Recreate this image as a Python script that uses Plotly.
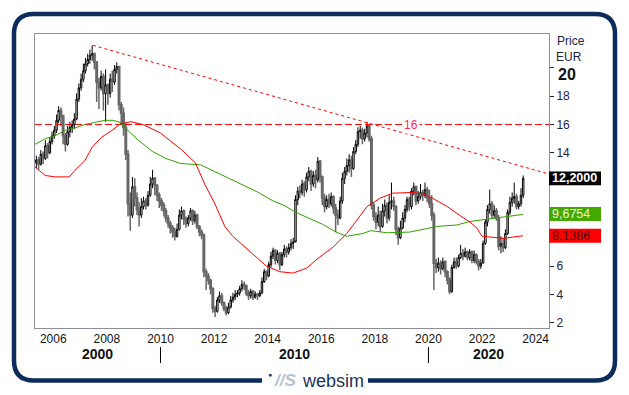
import plotly.graph_objects as go
from datetime import datetime

# ---------------- data (monthly candles, EUR) ----------------
start_year, start_month = 2005, 5
first_open = 13.3
close_ = [
    13.5, 13.2, 13.9, 13.6, 14.5, 14.0, 14.8, 15.2,                      # 2005 (May-Dec)
    15.6, 16.3, 17.0, 16.6, 15.2, 14.6, 15.5, 15.8, 16.0, 16.4, 17.8, 18.6,  # 2006
    19.2, 19.8, 20.3, 20.6, 20.9, 21.0, 20.4, 19.0, 18.6, 19.4, 18.2, 18.8,  # 2007
    18.2, 19.2, 19.0, 19.9, 20.1, 17.4, 16.8, 15.8, 13.9, 10.4, 9.6, 11.6,   # 2008
    10.8, 10.0, 9.6, 10.2, 10.6, 10.3, 11.0, 11.8, 12.2, 11.7, 11.0, 10.6,   # 2009
    10.3, 9.9, 9.4, 9.0, 8.7, 8.4, 8.1, 8.6, 9.6, 9.9, 9.3, 9.0,             # 2010
    9.4, 9.9, 9.2, 9.6, 8.8, 8.4, 8.2, 5.6, 5.3, 5.0, 4.4, 3.0,              # 2011
    2.8, 3.6, 3.9, 3.4, 3.0, 2.7, 3.1, 3.6, 3.8, 4.0, 4.1, 4.4,              # 2012
    4.7, 4.6, 4.1, 3.9, 4.2, 3.8, 4.0, 3.9, 4.1, 4.9, 5.6, 5.3,              # 2013
    6.1, 6.7, 7.1, 6.4, 6.9, 6.1, 6.8, 7.2, 7.0, 7.3, 7.6, 7.7,              # 2014
    10.7, 11.3, 11.2, 11.8, 11.4, 12.3, 12.7, 11.8, 12.4, 12.1, 13.4, 12.3,  # 2015
    10.8, 10.2, 10.7, 10.4, 10.9, 10.1, 9.6, 9.4, 10.6, 12.2, 12.7, 13.1,    # 2016
    13.5, 12.9, 14.1, 14.6, 15.5, 15.6, 15.0, 15.4, 15.9, 15.0, 10.3, 9.5,   # 2017
    9.1, 9.6, 8.8, 9.9, 10.3, 9.4, 10.5, 10.6, 10.2, 8.6, 8.0, 8.7,          # 2018
    9.4, 10.0, 10.7, 10.2, 11.3, 11.6, 10.6, 10.9, 11.2, 11.0, 11.4, 10.8,   # 2019
    10.4, 9.6, 6.2, 5.9, 6.2, 5.8, 6.3, 5.6, 5.0, 4.2, 5.9, 6.3,             # 2020
    6.0, 6.6, 6.9, 6.7, 7.0, 6.6, 7.0, 6.4, 6.8, 6.3, 6.0, 6.2,              # 2021
    7.6, 9.1, 10.0, 10.4, 9.6, 9.9, 9.4, 7.4, 7.6, 7.3, 8.3, 9.8,            # 2022
    10.5, 10.8, 10.9, 10.2, 10.4, 11.0, 12.2,                                # 2023 (Jan-Jul)
]
high_ = [
    13.8, 13.7, 14.2, 14.1, 14.9, 14.7, 15.1, 15.5,
    15.9, 16.7, 17.3, 17.2, 16.7, 15.4, 15.9, 16.2, 16.3, 16.8, 18.2, 18.9,
    19.6, 20.3, 20.7, 21.0, 21.3, 21.6, 21.1, 20.5, 19.3, 19.8, 19.6, 19.9,
    18.9, 19.6, 19.8, 20.2, 20.4, 20.1, 17.6, 17.2, 16.1, 14.2, 11.2, 12.3,
    12.2, 11.2, 10.5, 10.8, 10.9, 10.8, 11.3, 12.3, 12.8, 12.3, 11.8, 11.2,
    10.8, 10.5, 10.1, 9.6, 9.2, 8.9, 8.7, 9.0, 10.0, 10.2, 10.0, 9.5,
    9.6, 10.1, 10.0, 9.9, 9.7, 8.9, 8.6, 8.3, 5.8, 5.5, 5.1, 4.5,
    3.2, 3.8, 4.2, 4.1, 3.5, 3.2, 3.4, 3.9, 4.1, 4.3, 4.3, 4.6,
    5.0, 4.9, 4.7, 4.3, 4.4, 4.3, 4.2, 4.1, 4.3, 5.2, 5.8, 5.7,
    6.3, 7.0, 7.3, 7.2, 7.1, 7.0, 7.0, 7.5, 7.4, 7.6, 7.9, 8.0,
    11.0, 11.6, 11.7, 12.1, 12.0, 12.6, 13.0, 12.8, 12.7, 12.8, 13.7, 13.5,
    12.4, 11.1, 11.0, 11.1, 11.2, 11.0, 10.4, 10.0, 10.9, 12.6, 13.0, 13.6,
    13.9, 13.8, 14.4, 14.9, 15.8, 15.9, 15.8, 15.7, 16.2, 16.0, 15.2, 10.5,
    9.8, 10.2, 9.9, 10.4, 10.7, 10.5, 11.0, 11.9, 10.9, 10.3, 8.8, 9.2,
    9.8, 10.3, 10.9, 10.9, 11.5, 11.9, 11.7, 11.3, 11.8, 11.4, 11.9, 11.6,
    11.4, 11.0, 9.8, 6.5, 6.6, 6.4, 6.6, 6.4, 5.7, 5.2, 6.1, 6.6,
    6.6, 6.8, 7.5, 7.2, 7.3, 7.1, 7.2, 7.1, 7.1, 6.9, 6.5, 6.5,
    7.8, 9.3, 10.3, 11.4, 10.6, 10.3, 10.1, 9.6, 8.1, 8.0, 8.6, 10.0,
    10.9, 11.2, 11.9, 11.1, 10.6, 11.5, 12.4,
]
low_ = [
    12.9, 12.8, 13.1, 13.2, 13.5, 13.6, 13.9, 14.6,
    15.0, 15.4, 16.1, 15.9, 14.6, 14.1, 14.5, 15.1, 15.4, 15.7, 16.3, 17.6,
    18.4, 19.0, 19.6, 20.1, 20.3, 20.5, 19.9, 17.6, 17.1, 18.4, 17.0, 16.2,
    17.4, 17.9, 18.3, 18.8, 19.6, 17.0, 16.0, 15.2, 13.5, 9.5, 8.5, 9.4,
    10.2, 9.6, 8.8, 9.4, 10.0, 10.0, 10.2, 10.9, 11.5, 11.0, 10.6, 10.1,
    9.9, 9.5, 9.1, 8.7, 8.3, 8.0, 7.8, 8.0, 8.5, 9.3, 8.9, 8.7,
    8.8, 9.2, 8.9, 9.0, 8.6, 8.1, 7.9, 5.2, 4.3, 4.7, 4.0, 2.7,
    2.4, 2.7, 3.4, 3.2, 2.8, 2.5, 2.6, 3.0, 3.4, 3.6, 3.8, 3.9,
    4.2, 4.3, 3.9, 3.6, 3.7, 3.6, 3.7, 3.6, 3.8, 4.0, 4.8, 5.0,
    5.2, 5.9, 6.5, 6.1, 6.2, 5.7, 6.0, 6.6, 6.6, 6.8, 7.1, 7.2,
    7.8, 10.3, 10.8, 11.0, 10.9, 11.2, 12.0, 11.3, 11.6, 11.5, 11.9, 11.9,
    10.3, 9.8, 10.0, 10.1, 10.2, 9.7, 8.4, 8.9, 9.3, 10.4, 11.8, 12.4,
    12.6, 12.3, 12.8, 13.9, 14.4, 15.0, 14.6, 14.8, 15.1, 14.8, 10.0, 9.2,
    8.6, 8.8, 8.4, 8.7, 9.5, 9.0, 9.2, 10.0, 9.9, 8.2, 7.5, 7.9,
    8.6, 9.1, 9.8, 9.9, 10.0, 11.0, 10.3, 10.4, 10.7, 10.6, 10.8, 10.5,
    10.1, 9.2, 4.3, 5.5, 5.6, 5.4, 5.7, 5.2, 4.7, 4.0, 4.1, 5.8,
    5.8, 5.9, 6.5, 6.4, 6.6, 6.4, 6.4, 6.2, 6.2, 6.1, 5.7, 5.8,
    6.2, 7.5, 8.8, 9.7, 9.3, 9.4, 9.2, 7.1, 6.9, 7.0, 7.2, 8.2,
    9.6, 10.2, 10.4, 10.0, 10.0, 10.2, 10.8,
]

# moving averages (fractional year, value)
red_ma_t = [2005.32, 2005.7, 2006.06, 2006.6, 2006.8, 2007.18, 2007.45, 2007.8, 2008.2, 2008.5,
            2008.9, 2009.35, 2010.0, 2010.35, 2010.8, 2011.3, 2011.65, 2012.03, 2012.4, 2012.7,
            2013.0, 2013.45, 2013.95, 2014.45, 2014.95, 2015.45, 2015.95, 2016.45, 2016.95,
            2017.33, 2017.7, 2018.2, 2018.67, 2019.4, 2019.8, 2020.15, 2020.7, 2021.15, 2021.55,
            2021.8, 2022.0, 2022.6, 2022.8, 2023.15, 2023.53]
red_ma_v = [13.0, 12.4, 12.3, 12.3, 12.75, 13.45, 14.4, 15.1, 15.6, 16.05,
            16.2, 16.0, 15.4, 14.9, 14.2, 13.3, 11.8, 10.4, 8.8, 8.1,
            7.6, 6.9, 6.0, 5.6, 5.5, 5.85, 6.65, 7.35, 8.3,
            9.25, 10.2, 10.8, 11.15, 11.2, 11.1, 10.8, 10.2, 9.6, 9.1,
            8.7, 8.1, 8.0, 7.95, 8.05, 8.14]
green_ma_t = [2005.32, 2005.7, 2006.06, 2006.45, 2006.8, 2007.18, 2007.55, 2007.93, 2008.23, 2008.5,
              2008.8, 2009.2, 2009.7, 2010.2, 2010.75, 2011.5, 2012.0, 2012.67, 2013.1, 2013.6,
              2014.2, 2014.6, 2015.1, 2015.6, 2016.05, 2016.55, 2016.95, 2017.55, 2017.85, 2018.45,
              2019.3, 2019.95, 2020.3, 2021.05, 2021.55, 2022.15, 2022.8, 2023.15, 2023.53]
green_ma_v = [14.6, 15.0, 15.2, 15.6, 15.75, 16.0, 16.15, 16.3, 16.3, 16.15,
              15.55, 14.85, 14.1, 13.6, 13.25, 13.15, 12.7, 12.1, 11.7, 11.25,
              10.6, 10.3, 9.75, 9.35, 8.95, 8.4, 8.1, 8.3, 8.5, 8.35,
              8.4, 8.65, 8.8, 8.9, 9.15, 9.3, 9.45, 9.55, 9.65]

trend_t = [2007.48, 2024.5]
trend_v = [21.6, 12.5]
level = 16
last_price, green_last, red_last = 12.2000, 9.6754, 8.1386
y_ticks = [2, 4, 6, 8, 10, 12, 14, 16, 18, 20]
top_tick = 20
decades = ["2000", "2010", "2020"]

# ---------------- helpers ----------------
def fy(v):
    y = int(v)
    a, b = datetime(y, 1, 1), datetime(y + 1, 1, 1)
    return a + (b - a) * (v - y)

dates = []
y, m = start_year, start_month
for _ in close_:
    dates.append(datetime(y, m, 15))
    m += 1
    if m > 12:
        m, y = 1, y + 1
open_ = [first_open] + close_[:-1]

# page has an 8px body margin: figure is sized/offset so screen coords match
OFF = 8
W, H = 629 - OFF, 395 - OFF
SL, SR, ST, SB = 35, 549, 34, 328          # plot area in screen pixels
PW, PH = SR - SL, SB - ST
ML, MT = SL - OFF, ST - OFF
MR, MB = W - (SR - OFF), H - (SB - OFF)
def px(x): return (x - SL) / PW
def py(yv): return (SB - yv) / PH

X0, X1 = 2005.317, 2024.497
Y0, Y1 = 1.62, 22.40
FONT = "Liberation Sans, Arial, sans-serif"

fig = go.Figure()
fig.add_trace(go.Candlestick(
    x=dates, open=open_, high=high_, low=low_, close=close_,
    increasing=dict(line=dict(color="#000000", width=1), fillcolor="#ffffff"),
    decreasing=dict(line=dict(color="#666666", width=1.5), fillcolor="#666666"),
    whiskerwidth=0, showlegend=False, hoverinfo="skip"))
fig.add_trace(go.Scatter(x=[fy(t) for t in green_ma_t], y=green_ma_v, mode="lines",
                         line=dict(color="#33a000", width=1), showlegend=False, hoverinfo="skip"))
fig.add_trace(go.Scatter(x=[fy(t) for t in red_ma_t], y=red_ma_v, mode="lines",
                         line=dict(color="#ff0000", width=1), showlegend=False, hoverinfo="skip"))
fig.add_trace(go.Scatter(x=[fy(t) for t in trend_t], y=trend_v, mode="lines",
                         line=dict(color="#ff0000", width=1, dash="3px,3px"),
                         showlegend=False, hoverinfo="skip"))
fig.add_trace(go.Scatter(x=[fy(X0), fy(X1)], y=[level, level], mode="lines",
                         line=dict(color="#ff0000", width=1, dash="7px,3px"),
                         showlegend=False, hoverinfo="skip"))

shapes = []
annotations = []

# level label
annotations.append(dict(x=fy(2019.35), y=level, xref="x", yref="y", text=str(level),
                        xanchor="center", yanchor="middle",
                        showarrow=False, bgcolor="#ffffff", borderpad=1,
                        font=dict(family=FONT, size=12, color="#ff2a55")))

# price boxes
for val, txt, bg, fc, bold in [(last_price, "12,2000", "#000000", "#ffffff", True),
                               (green_last, "9,6754", "#44a800", "#eef6d8", False),
                               (red_last, "8,1386", "#ff0000", "#3a0000", False)]:
    shapes.append(dict(type="rect", xref="paper", yref="y", x0=px(549), x1=px(601),
                       y0=val - 0.49, y1=val + 0.49, fillcolor=bg, line=dict(width=0), layer="above"))
    annotations.append(dict(x=px(550), y=val, xref="paper", yref="y", xanchor="left", yanchor="middle",
                            text=("<b>%s</b>" % txt) if bold else txt, showarrow=False,
                            font=dict(family=FONT, size=12.5, color=fc)))

# axis title
annotations.append(dict(x=px(555), y=py(41.5), xref="paper", yref="paper", xanchor="left", yanchor="middle",
                        text="Price", showarrow=False, font=dict(family=FONT, size=12, color="#1a2340")))
annotations.append(dict(x=px(554), y=py(57), xref="paper", yref="paper", xanchor="left", yanchor="middle",
                        text="EUR", showarrow=False, font=dict(family=FONT, size=12, color="#1a2340")))
# emphasised top tick label (sits slightly below its tick, as in the source)
annotations.append(dict(x=px(556), y=py(74), xref="paper", yref="paper", xanchor="left", yanchor="middle",
                        text="<b>%d</b>" % top_tick, showarrow=False,
                        font=dict(family=FONT, size=16, color="#111111")))

# decade labels and separators
bounds = [X0, 2010, 2020, X1]
for i, d in enumerate(decades):
    c = (bounds[i] + bounds[i + 1]) / 2
    annotations.append(dict(x=fy(c), y=py(354), xref="x", yref="paper", text="<b>%s</b>" % d,
                            xanchor="center", yanchor="middle",
                            showarrow=False, font=dict(family=FONT, size=14, color="#111111")))
for b in bounds[1:3]:
    shapes.append(dict(type="line", xref="x", yref="paper", x0=fy(b), x1=fy(b),
                       y0=py(347), y1=py(363), line=dict(color="#000000", width=1)))

# rounded frame with gap for logo
r = 20
L, R, T, B = 14, 615, 14, 380.5
pts = [("M", 262, B), ("L", L + r, B), ("Q", L, B, L, B - r), ("L", L, T + r), ("Q", L, T, L + r, T),
       ("L", R - r, T), ("Q", R, T, R, T + r), ("L", R, B - r), ("Q", R, B, R - r, B), ("L", 368, B)]
path = ""
for p in pts:
    coords = p[1:]
    parts = ["%.5f,%.5f" % (px(coords[k]), py(coords[k + 1])) for k in range(0, len(coords), 2)]
    path += p[0] + " " + " ".join(parts) + " "
shapes.append(dict(type="path", xref="paper", yref="paper", path=path,
                   line=dict(color="#0c2d5b", width=4.5)))

# logo
annotations.append(dict(x=px(270), y=py(374), xref="paper", yref="paper", text="●",
                        xanchor="center", yanchor="middle",
                        showarrow=False, font=dict(family=FONT, size=7, color="#1d3a66")))
annotations.append(dict(x=px(285), y=py(380), xref="paper", yref="paper", text="<b><i>//S</i></b>",
                        xanchor="center", yanchor="middle",
                        showarrow=False, font=dict(family=FONT, size=17, color="#b7c3d3")))
annotations.append(dict(x=px(300), y=py(381), xref="paper", yref="paper", xanchor="left", yanchor="middle",
                        text="websim", showarrow=False, font=dict(family=FONT, size=18, color="#1b3358")))

tick_text = ["" if v in (8, 10, 12, top_tick) else str(v) for v in y_ticks]

fig.update_layout(
    width=W, height=H, margin=dict(l=ML, r=MR, t=MT, b=MB, autoexpand=False),
    paper_bgcolor="#ffffff", plot_bgcolor="#ffffff",
    font=dict(family=FONT, size=12, color="#111111"),
    showlegend=False, shapes=shapes, annotations=annotations, boxgap=0.0,
    xaxis=dict(type="date", range=[fy(X0), fy(X1)], rangeslider=dict(visible=False),
               tick0="2006-01-01", dtick="M24", tickformat="%Y", showgrid=False, zeroline=False,
               showline=True, mirror=True, linecolor="#8d8d9d", linewidth=1, ticks="",
               tickfont=dict(family=FONT, size=12, color="#111111")),
    yaxis=dict(range=[Y0, Y1], side="right", tickvals=y_ticks, ticktext=tick_text,
               showgrid=False, zeroline=False, showline=True, mirror=True,
               linecolor="#8d8d9d", linewidth=1, ticks="outside", ticklen=4,
               tickcolor="#1a2340", tickfont=dict(family=FONT, size=12, color="#1a2340")),
)
fig.write_html("out.html")
